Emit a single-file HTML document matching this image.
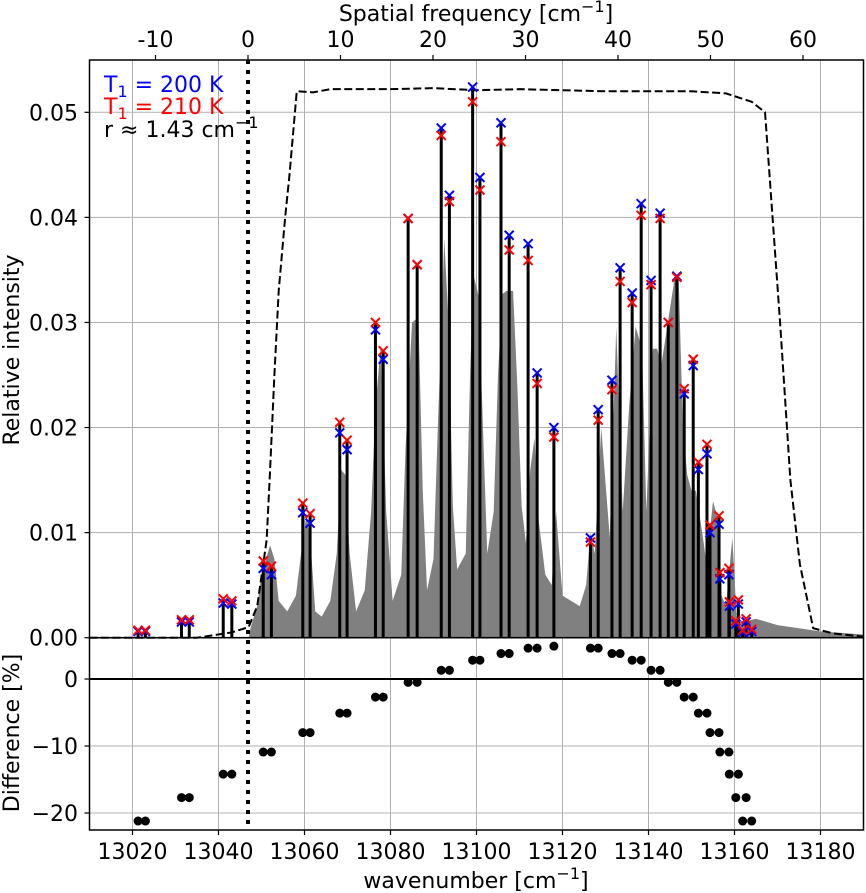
<!DOCTYPE html>
<html><head><meta charset="utf-8"><style>
body{margin:0;background:#fff}
svg{display:block;font-family:"DejaVu Sans","Liberation Sans",sans-serif}
</style></head><body>
<svg id="chart" width="866" height="893" viewBox="0 0 866 893" xmlns="http://www.w3.org/2000/svg">
<rect x="0" y="0" width="866" height="893" fill="#fff"/>
<g id="grid"></g><g id="marks"></g><g id="axes"></g>
<text x="104" y="92" font-size="22" fill="#0000ff">T<tspan font-size="16" dy="5">1</tspan><tspan dy="-5"> = 200 K</tspan></text>
<text x="104" y="114" font-size="22" fill="#ff0000">T<tspan font-size="16" dy="5">1</tspan><tspan dy="-5"> = 210 K</tspan></text>
<text x="104" y="137" font-size="22" fill="#000">r ≈ 1.43 cm<tspan font-size="16" dy="-9">−1</tspan></text>
<text x="476" y="21" font-size="22" text-anchor="middle">Spatial frequency [cm<tspan font-size="16" dy="-9">−1</tspan><tspan dy="9">]</tspan></text>
<text x="476" y="888" font-size="22" text-anchor="middle">wavenumber [cm<tspan font-size="16" dy="-9">−1</tspan><tspan dy="9">]</tspan></text>
<text transform="translate(19,350) rotate(-90)" font-size="22" text-anchor="middle">Relative intensity</text>
<text transform="translate(19,733) rotate(-90)" font-size="22" text-anchor="middle">Difference [%]</text>
</svg>
<script>
const lineWn=[13021.3,13023.0,13031.4,13033.2,13041.1,13043.1,13050.4,13052.3,13059.6,13061.3,13068.2,13069.9,13076.5,13078.3,13084.1,13086.2,13091.8,13093.7,13099.1,13100.8,13105.7,13107.6,13112.0,13114.1,13118.0,13126.5,13128.3,13131.5,13133.4,13136.2,13138.3,13140.6,13142.7,13144.6,13146.6,13148.3,13150.4,13151.6,13153.6,13154.3,13156.4,13156.6,13158.7,13158.8,13160.9,13160.3,13162.7,13161.9,13164.0];
const blueVals=[0.0006,0.0006,0.0015,0.0015,0.0033,0.0032,0.0066,0.0060,0.0119,0.0109,0.0195,0.0179,0.0293,0.0265,0.0399,0.0355,0.0485,0.0421,0.0524,0.0438,0.0490,0.0383,0.0375,0.0252,0.0200,0.0095,0.0217,0.0245,0.0352,0.0328,0.0413,0.0340,0.0404,0.0300,0.0344,0.0232,0.0259,0.0160,0.0175,0.0100,0.0108,0.0056,0.0060,0.0030,0.0032,0.0013,0.0015,0.0005,0.0006];
const redVals=[0.0007,0.0007,0.0017,0.0017,0.0037,0.0035,0.0073,0.0068,0.0128,0.0118,0.0205,0.0188,0.0300,0.0273,0.0399,0.0355,0.0478,0.0415,0.0510,0.0426,0.0472,0.0369,0.0359,0.0242,0.0191,0.0091,0.0207,0.0236,0.0339,0.0319,0.0402,0.0336,0.0399,0.0300,0.0343,0.0237,0.0265,0.0167,0.0184,0.0107,0.0116,0.0062,0.0066,0.0034,0.0036,0.0016,0.0018,0.0007,0.0008];
const diffWn=[13021.3,13023.0,13031.4,13033.2,13041.1,13043.1,13050.4,13052.3,13059.6,13061.3,13068.2,13069.9,13076.5,13078.3,13084.1,13086.2,13091.8,13093.7,13099.1,13100.8,13105.7,13107.6,13112.0,13114.1,13118.0,13126.5,13128.3,13131.5,13133.4,13136.2,13138.3,13140.6,13142.7,13144.6,13146.6,13148.3,13150.4,13151.6,13153.6,13154.3,13156.4,13156.6,13158.7,13158.8,13160.9,13160.3,13162.7,13161.9,13164.0];
const diffVals=[-21.2,-21.2,-17.7,-17.7,-14.2,-14.2,-10.9,-10.9,-8.0,-8.0,-5.1,-5.1,-2.7,-2.7,-0.5,-0.5,1.3,1.3,2.8,2.8,3.8,3.8,4.6,4.6,4.9,4.6,4.6,3.8,3.8,2.8,2.8,1.3,1.3,-0.5,-0.5,-2.7,-2.7,-5.1,-5.1,-8.0,-8.0,-10.9,-10.9,-14.2,-14.2,-17.7,-17.7,-21.2,-21.2];
const specWn=[13047,13047.5,13049,13050,13052,13053,13054,13056,13058,13059.5,13060.5,13061.5,13062.5,13064,13066,13067.5,13068.5,13069.5,13070.5,13072,13074,13075.5,13076.5,13077.8,13079,13080.5,13082.5,13083.5,13085,13086.5,13087.5,13088.5,13090,13091,13091.8,13092.5,13093.5,13094.5,13095.5,13097.5,13098.5,13099.3,13100.5,13101.5,13102.5,13104,13105,13106,13107,13108.5,13109.5,13110.5,13111.5,13112.5,13113.5,13114.5,13116,13117.5,13118.5,13120,13122,13124,13125.5,13126.5,13127.5,13129,13131,13132.5,13134,13135.5,13137,13138.5,13139.5,13141,13142,13143,13144.5,13146,13147,13148,13149,13150,13151,13152.5,13153.5,13155,13156,13157,13158,13159.5,13160.5,13162,13165,13170,13180,13190];
const specVals=[0,0.001,0.003,0.006,0.0088,0.0075,0.0035,0.0025,0.004,0.009,0.0118,0.0085,0.0025,0.002,0.0035,0.008,0.016,0.0155,0.008,0.0025,0.0045,0.012,0.022,0.028,0.012,0.0035,0.006,0.018,0.030,0.0305,0.014,0.0045,0.0075,0.020,0.029,0.038,0.030,0.0125,0.0065,0.008,0.025,0.0345,0.0325,0.020,0.008,0.012,0.025,0.0327,0.033,0.033,0.024,0.0125,0.009,0.016,0.019,0.011,0.006,0.005,0.012,0.004,0.0035,0.003,0.005,0.010,0.008,0.020,0.0095,0.0296,0.012,0.022,0.0296,0.0275,0.012,0.0275,0.0275,0.026,0.030,0.034,0.0345,0.020,0.0155,0.014,0.014,0.010,0.007,0.013,0.0115,0.004,0.003,0.0095,0.002,0.0015,0.0018,0.0012,0.0006,0.0003];
const filtWn=[13010,13035,13043,13047,13049,13051.2,13052,13053,13054,13055.5,13056.5,13058.2,13062,13066,13080,13090,13100,13110,13120,13130,13150,13158,13164,13167.1,13170.6,13173,13175.2,13178.3,13183,13190];
const filtVals=[0,0,0.0005,0.001,0.003,0.0093,0.016,0.025,0.033,0.040,0.044,0.052,0.0519,0.0522,0.0522,0.0523,0.0521,0.0522,0.0521,0.052,0.052,0.0518,0.051,0.050,0.030,0.015,0.007,0.0009,0.0004,0.0001];
const xTicks=[13020,13040,13060,13080,13100,13120,13140,13160,13180];
const topTicks=[-10,0,10,20,30,40,50,60];
const yTicks=[0,0.01,0.02,0.03,0.04,0.05];
const yTickLabels=["0.00","0.01","0.02","0.03","0.04","0.05"];
const dTicks=[0,-10,-20];
const dTickLabels=["0","−10","−20"];

const L=89.5,R=863.5,T=60,MID=637.7,B=830;
const X=v=>L+(v-13010)*(R-L)/180;
const Y=v=>MID-v*10508;
const D=v=>679-v*6.7;
const SF=s=>248+s*9.25;
const NS="http://www.w3.org/2000/svg";
function mk(parent,tag,attrs){const e=document.createElementNS(NS,tag);for(const k in attrs)e.setAttribute(k,attrs[k]);document.getElementById(parent).appendChild(e);return e;}

xTicks.forEach(t=>{
  const g=mk('grid','line',{x1:X(t),x2:X(t),y1:T,y2:B,stroke:'#b0b0b0','stroke-width':1});
  
  
});
yTicks.forEach(t=>{
  const g=mk('grid','line',{x1:L,x2:R,y1:Y(t),y2:Y(t),stroke:'#b0b0b0','stroke-width':1});
  
  
});
dTicks.forEach(t=>{
  const g=mk('grid','line',{x1:L,x2:R,y1:D(t),y2:D(t),stroke:'#b0b0b0','stroke-width':1});
  
  
});

let pts=specWn.map((w,i)=>X(w)+','+Y(specVals[i])).join(' ');
pts+=' '+X(specWn[specWn.length-1])+','+Y(0)+' '+X(specWn[0])+','+Y(0);
const sp=mk('marks','polygon',{points:pts,fill:'#808080'});



const fp=mk('marks','polyline',{points:filtWn.map((w,i)=>X(w)+','+Y(filtVals[i])).join(' '),fill:'none',stroke:'#000','stroke-width':2,'stroke-dasharray':'8,3.5'});



function cross(x,y,col,name){
  const s=4.5;
  const p=mk('marks','path',{d:`M${x-s},${y-s}L${x+s},${y+s}M${x-s},${y+s}L${x+s},${y-s}`,stroke:col,'stroke-width':2,fill:'none'});
  
  
}
lineWn.forEach((w,i)=>{
  const top=Math.max(blueVals[i],redVals[i]);
  const st=mk('marks','line',{x1:X(w),x2:X(w),y1:Y(0),y2:Y(top),stroke:'#000','stroke-width':3});
  
  
});
lineWn.forEach((w,i)=>{
  cross(X(w),Y(blueVals[i]),'#0000ff','marker-200k');
  cross(X(w),Y(redVals[i]),'#ff0000','marker-210k');
});

const zl=mk('marks','line',{x1:L,x2:R,y1:D(0),y2:D(0),stroke:'#000','stroke-width':2});


diffWn.forEach((w,i)=>{
  const c=mk('marks','circle',{cx:X(w),cy:D(diffVals[i]),r:4.5,fill:'#000'});
  
  
});

const dl=mk('marks','line',{x1:SF(0),x2:SF(0),y1:T,y2:B,stroke:'#000','stroke-width':4,'stroke-dasharray':'4,6'});



[[T,MID],[MID,B]].forEach(([a,b])=>{
  const f=mk('axes','rect',{x:L,y:a,width:R-L,height:b-a,fill:'none',stroke:'#000','stroke-width':1.5});
  
  
});
xTicks.forEach(t=>{
  mk('axes','line',{x1:X(t),x2:X(t),y1:B,y2:B+5,stroke:'#000','stroke-width':1.2});
  const tx=mk('axes','text',{x:X(t),y:859,'font-size':22,'text-anchor':'middle'});
  tx.textContent=t;
  
  
});
topTicks.forEach(t=>{
  mk('axes','line',{x1:SF(t),x2:SF(t),y1:T,y2:T-5,stroke:'#000','stroke-width':1.2});
  const tx=mk('axes','text',{x:SF(t),y:47,'font-size':22,'text-anchor':'middle'});
  tx.textContent=t;
  
  
});
yTicks.forEach((t,i)=>{
  mk('axes','line',{x1:L,x2:L-5,y1:Y(t),y2:Y(t),stroke:'#000','stroke-width':1.2});
  const tx=mk('axes','text',{x:78,y:Y(t)+8,'font-size':22,'text-anchor':'end'});
  tx.textContent=yTickLabels[i];
  
  
});
dTicks.forEach((t,i)=>{
  mk('axes','line',{x1:L,x2:L-5,y1:D(t),y2:D(t),stroke:'#000','stroke-width':1.2});
  const tx=mk('axes','text',{x:78,y:D(t)+8,'font-size':22,'text-anchor':'end'});
  tx.textContent=dTickLabels[i];
  
  
});
</script>
</body></html>
